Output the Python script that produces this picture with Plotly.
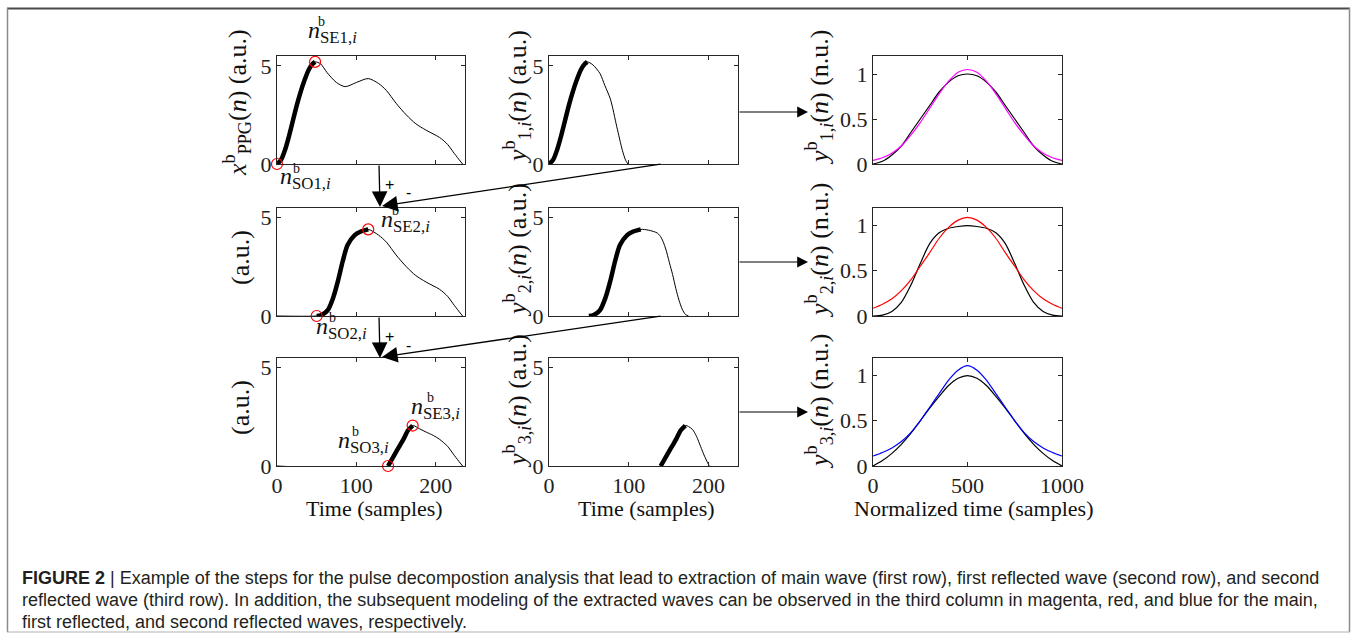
import plotly.graph_objects as go

W, H = 1358, 639

# ---------------- data ----------------
# column 1: PPG beat and residuals after removing extracted waves
ppg_n = [0, 5, 10, 15, 20, 25, 30, 35, 40, 45, 48, 55, 63, 75, 86, 100, 115, 128, 138, 150, 163, 175, 188, 205, 215, 222, 229, 234]
ppg_v = [0, 0.2, 0.7, 1.4, 2.2, 3.0, 3.7, 4.3, 4.8, 5.1, 5.2, 5.1, 4.66, 4.15, 3.94, 4.15, 4.35, 4.1, 3.74, 3.1, 2.5, 2.05, 1.72, 1.35, 1.0, 0.62, 0.25, 0]

res2_n = [0, 50, 56, 64, 71, 77, 83, 89, 98, 105, 115, 128, 138, 150, 163, 175, 188, 205, 215, 222, 229, 234]
res2_v = [0, 0, 0.05, 0.3, 0.95, 1.8, 2.8, 3.6, 4.1, 4.27, 4.39, 4.1, 3.74, 3.1, 2.5, 2.05, 1.72, 1.35, 1.0, 0.62, 0.25, 0]

res3_n = [0, 140, 145, 150, 155, 160, 165, 171, 180, 188, 197, 205, 215, 222, 229, 234]
res3_v = [0, 0, 0.35, 0.7, 1.05, 1.4, 1.8, 2.05, 1.88, 1.72, 1.55, 1.35, 1.0, 0.62, 0.25, 0]

# column 2: extracted waves
y1_n = [0, 5, 10, 15, 20, 25, 30, 35, 40, 45, 48, 55, 64, 70, 77, 85, 92, 96, 99]
y1_v = [0, 0.2, 0.7, 1.4, 2.2, 3.0, 3.7, 4.3, 4.8, 5.1, 5.2, 5.05, 4.6, 4.0, 3.3, 1.9, 0.7, 0.2, 0]

y2_n = [50, 56, 64, 71, 77, 83, 89, 98, 105, 115, 125, 136, 141, 146, 151, 155, 159, 163, 167, 171, 175]
y2_v = [0, 0.05, 0.3, 0.95, 1.8, 2.8, 3.6, 4.1, 4.27, 4.39, 4.35, 4.2, 3.95, 3.45, 2.7, 2.1, 1.4, 0.8, 0.35, 0.08, 0]

y3_n = [140, 145, 150, 155, 160, 165, 171, 175, 180, 185, 190, 195, 201]
y3_v = [0, 0.35, 0.7, 1.05, 1.4, 1.8, 2.05, 2.0, 1.85, 1.5, 1.0, 0.5, 0]

# onset (SO) and end (SE) points of each wave
so_n = [0, 50, 140]
so_v = [0, 0, 0]
se_n = [48, 115, 171]
se_v = [5.2, 4.39, 2.05]

# column 3: normalized waves (black) and their models
nt = [0, 50, 100, 150, 200, 250, 300, 350, 400, 450, 500, 550, 600, 650, 700, 750, 800, 850, 900, 950, 1000]
norm1 = [0, 0.03, 0.1, 0.2, 0.35, 0.5, 0.65, 0.8, 0.91, 0.98, 1.0, 0.98, 0.91, 0.8, 0.65, 0.5, 0.35, 0.2, 0.1, 0.03, 0]
model1 = [0.04, 0.07, 0.12, 0.2, 0.32, 0.46, 0.62, 0.78, 0.92, 1.02, 1.05, 1.02, 0.92, 0.78, 0.62, 0.46, 0.32, 0.2, 0.12, 0.07, 0.04]
norm2 = [0, 0.01, 0.05, 0.15, 0.34, 0.58, 0.8, 0.92, 0.97, 0.99, 1.0, 0.99, 0.97, 0.92, 0.8, 0.58, 0.34, 0.15, 0.05, 0.01, 0]
model2 = [0.085, 0.13, 0.19, 0.28, 0.4, 0.55, 0.7, 0.86, 0.98, 1.06, 1.09, 1.06, 0.98, 0.86, 0.7, 0.55, 0.4, 0.28, 0.19, 0.13, 0.085]
norm3 = [0, 0.06, 0.14, 0.24, 0.36, 0.5, 0.64, 0.77, 0.89, 0.97, 1.0, 0.97, 0.89, 0.77, 0.64, 0.5, 0.36, 0.24, 0.14, 0.06, 0]
model3 = [0.11, 0.15, 0.2, 0.27, 0.37, 0.5, 0.65, 0.8, 0.95, 1.06, 1.11, 1.06, 0.95, 0.8, 0.65, 0.5, 0.37, 0.27, 0.2, 0.15, 0.11]
model_colors = ["#ff00ff", "#ff0000", "#0000ff"]

x_ticks_t = [0, 100, 200]
x_ticks_norm = [0, 500, 1000]
y_ticks_t = [0, 5]
y_ticks_norm = [0, 0.5, 1]

caption = [
    "<b>FIGURE 2</b> | Example of the steps for the pulse decompostion analysis that lead to extraction of main wave (first row), first reflected wave (second row), and second",
    "reflected wave (third row). In addition, the subsequent modeling of the extracted waves can be observed in the third column in magenta, red, and blue for the main,",
    "first reflected, and second reflected waves, respectively.",
]

# ---------------- layout helpers ----------------
def px(x):
    return x / W

def py(y):
    return 1 - y / H

SERIF = "Liberation Serif, Times New Roman, serif"
SANS = "Liberation Sans, Arial, sans-serif"
AX = "#262626"

col_x = [(277, 465), (549, 738), (873, 1062)]
row_y = [(56, 164), (207.5, 316), (357.5, 466)]

fig = go.Figure()

def ax_id(r, c):
    k = r * 3 + c + 1
    return ("x" if k == 1 else f"x{k}"), ("y" if k == 1 else f"y{k}")

def seg(ns, vs, a, b):
    pts = [(n, v) for n, v in zip(ns, vs) if a <= n <= b]
    return [p[0] for p in pts], [p[1] for p in pts]

def line(r, c, ns, vs, width=1, color="black"):
    xa, ya = ax_id(r, c)
    fig.add_trace(go.Scatter(x=ns, y=vs, mode="lines", xaxis=xa, yaxis=ya,
                             line=dict(color=color, width=width, shape="spline", smoothing=0.8),
                             showlegend=False, hoverinfo="skip"))

col1 = [(ppg_n, ppg_v), (res2_n, res2_v), (res3_n, res3_v)]
col2 = [(y1_n, y1_v), (y2_n, y2_v), (y3_n, y3_v)]
norms = [norm1, norm2, norm3]
models = [model1, model2, model3]

for r in range(3):
    a, b = so_n[r], se_n[r]
    # column 1
    line(r, 0, *col1[r])
    line(r, 0, *seg(*col1[r], a, b), width=4.5)
    xa, ya = ax_id(r, 0)
    fig.add_trace(go.Scatter(x=[so_n[r], se_n[r]], y=[so_v[r], se_v[r]], mode="markers",
                             xaxis=xa, yaxis=ya, cliponaxis=False,
                             marker=dict(symbol="circle-open", size=11, color="red", line=dict(width=1.2)),
                             showlegend=False, hoverinfo="skip"))
    # column 2
    line(r, 1, *col2[r])
    line(r, 1, *seg(*col2[r], a, b), width=4.5)
    # column 3
    line(r, 2, nt, norms[r], width=1.2)
    line(r, 2, nt, models[r], width=1.2, color=model_colors[r])

base_axis = dict(showline=True, linecolor=AX, linewidth=1, mirror="ticks", ticks="inside",
                 ticklen=4, tickwidth=1, tickcolor=AX, showgrid=False, zeroline=False,
                 tickfont=dict(family=SERIF, size=22, color="#222"), fixedrange=True)

layout_axes = {}
for r in range(3):
    for c in range(3):
        k = r * 3 + c + 1
        xk = "xaxis" if k == 1 else f"xaxis{k}"
        yk = "yaxis" if k == 1 else f"yaxis{k}"
        xa, ya = ax_id(r, c)
        x0, x1 = col_x[c]
        y0, y1 = row_y[r]
        if c < 2:
            xr, xt, yr, yt = [0, 237], x_ticks_t, [0, 5.5], y_ticks_t
        else:
            xr, xt, yr, yt = [0, 1000], x_ticks_norm, [0, 1.2], y_ticks_norm
        layout_axes[xk] = dict(base_axis, domain=[px(x0), px(x1)], range=xr, tickvals=xt,
                               showticklabels=(r == 2), anchor=ya)
        layout_axes[yk] = dict(base_axis, domain=[py(y1), py(y0)], range=yr, tickvals=yt, anchor=xa)

fig.update_layout(**layout_axes)

ann = []

def text(x, y, t, size=26, angle=0, xanchor="center", yanchor="middle", family=SERIF, color="#111"):
    ann.append(dict(x=px(x), y=py(y), xref="paper", yref="paper", text=t, showarrow=False,
                    textangle=angle, xanchor=xanchor, yanchor=yanchor,
                    font=dict(family=family, size=size, color=color)))

def arrow(hx, hy, tx, ty, size=2.2, width=1.2, head=2):
    ann.append(dict(x=px(hx), y=py(hy), xref="paper", yref="paper", text="", showarrow=True,
                    ax=tx - hx, ay=ty - hy, arrowhead=head, arrowsize=size, arrowwidth=width,
                    arrowcolor="black", standoff=0))

# y-axis titles
text(237, 103, "<i>x</i><sup>b</sup><sub>PPG</sub>(<i>n</i>) (a.u.)", angle=-90)
text(240, 258, "(a.u.)", angle=-90)
text(240, 408, "(a.u.)", angle=-90)
for r, yc in enumerate([97, 250, 401]):
    text(517, yc, f"<i>y</i><sup>b</sup><sub>{r+1},<i>i</i></sub>(<i>n</i>) (a.u.)", angle=-90)
    text(819, yc, f"<i>y</i><sup>b</sup><sub>{r+1},<i>i</i></sub>(<i>n</i>) (n.u.)", angle=-90)

# x-axis titles
text(374, 508, "Time (samples)", size=22)
text(646, 508, "Time (samples)", size=22)
text(973, 508, "Normalized time (samples)", size=22)

# point labels n^b_{..}
def nlabel(xl, yc, sub, bx, by):
    text(xl, yc, f"<i>n</i><sub>{sub},<i>i</i></sub>", size=24, xanchor="left")
    text(bx, by, "b", size=14)

nlabel(306, 32, "SE1", 321, 21)
nlabel(278, 178, "SO1", 296, 168)
nlabel(379, 221, "SE2", 395, 210)
nlabel(314, 328, "SO2", 332, 317)
nlabel(409, 408, "SE3", 430, 397)
nlabel(336, 442, "SO3", 355, 431)

# subtraction arrows
for top, bot in [(164, 207), (316, 358)]:
    arrow(380, bot, 379, top, size=2.4, width=1.3)
    arrow(382, bot - 1, 662, top, size=2.4, width=1.3)
    text(390, top + 21, "+", size=16, family=SANS, color="#000")
    text(408, top + 29, "-", size=16, family=SANS, color="#000")

# modeling arrows
for yy in [112, 262, 412]:
    arrow(808, yy, 738, yy, size=1.8, width=1.2)

# caption
for i, t in enumerate(caption):
    text(20, 578 + 22 * i, t, size=18, xanchor="left", family=SANS, color="#231f20")

shapes = [
    dict(type="line", xref="paper", yref="paper", x0=px(7), x1=px(1350), y0=py(8.5), y1=py(8.5),
         line=dict(color="#4a4a4a", width=2)),
    dict(type="line", xref="paper", yref="paper", x0=px(7.5), x1=px(7.5), y0=py(8), y1=py(632),
         line=dict(color="#8a8a8a", width=1.5)),
    dict(type="line", xref="paper", yref="paper", x0=px(1349.5), x1=px(1349.5), y0=py(8), y1=py(632),
         line=dict(color="#8a8a8a", width=1.5)),
    dict(type="line", xref="paper", yref="paper", x0=px(7), x1=px(1350), y0=py(632), y1=py(632),
         line=dict(color="#b0b0b0", width=1)),
]

fig.update_layout(width=W, height=H,
                  margin=dict(l=0, r=0, t=0, b=0, pad=0, autoexpand=False),
                  paper_bgcolor="white", plot_bgcolor="white",
                  annotations=ann, shapes=shapes, showlegend=False)

fig.write_html("out.html", config={"displayModeBar": False, "staticPlot": True},
               post_script="document.body.style.margin='0';document.body.style.overflow='hidden';")
